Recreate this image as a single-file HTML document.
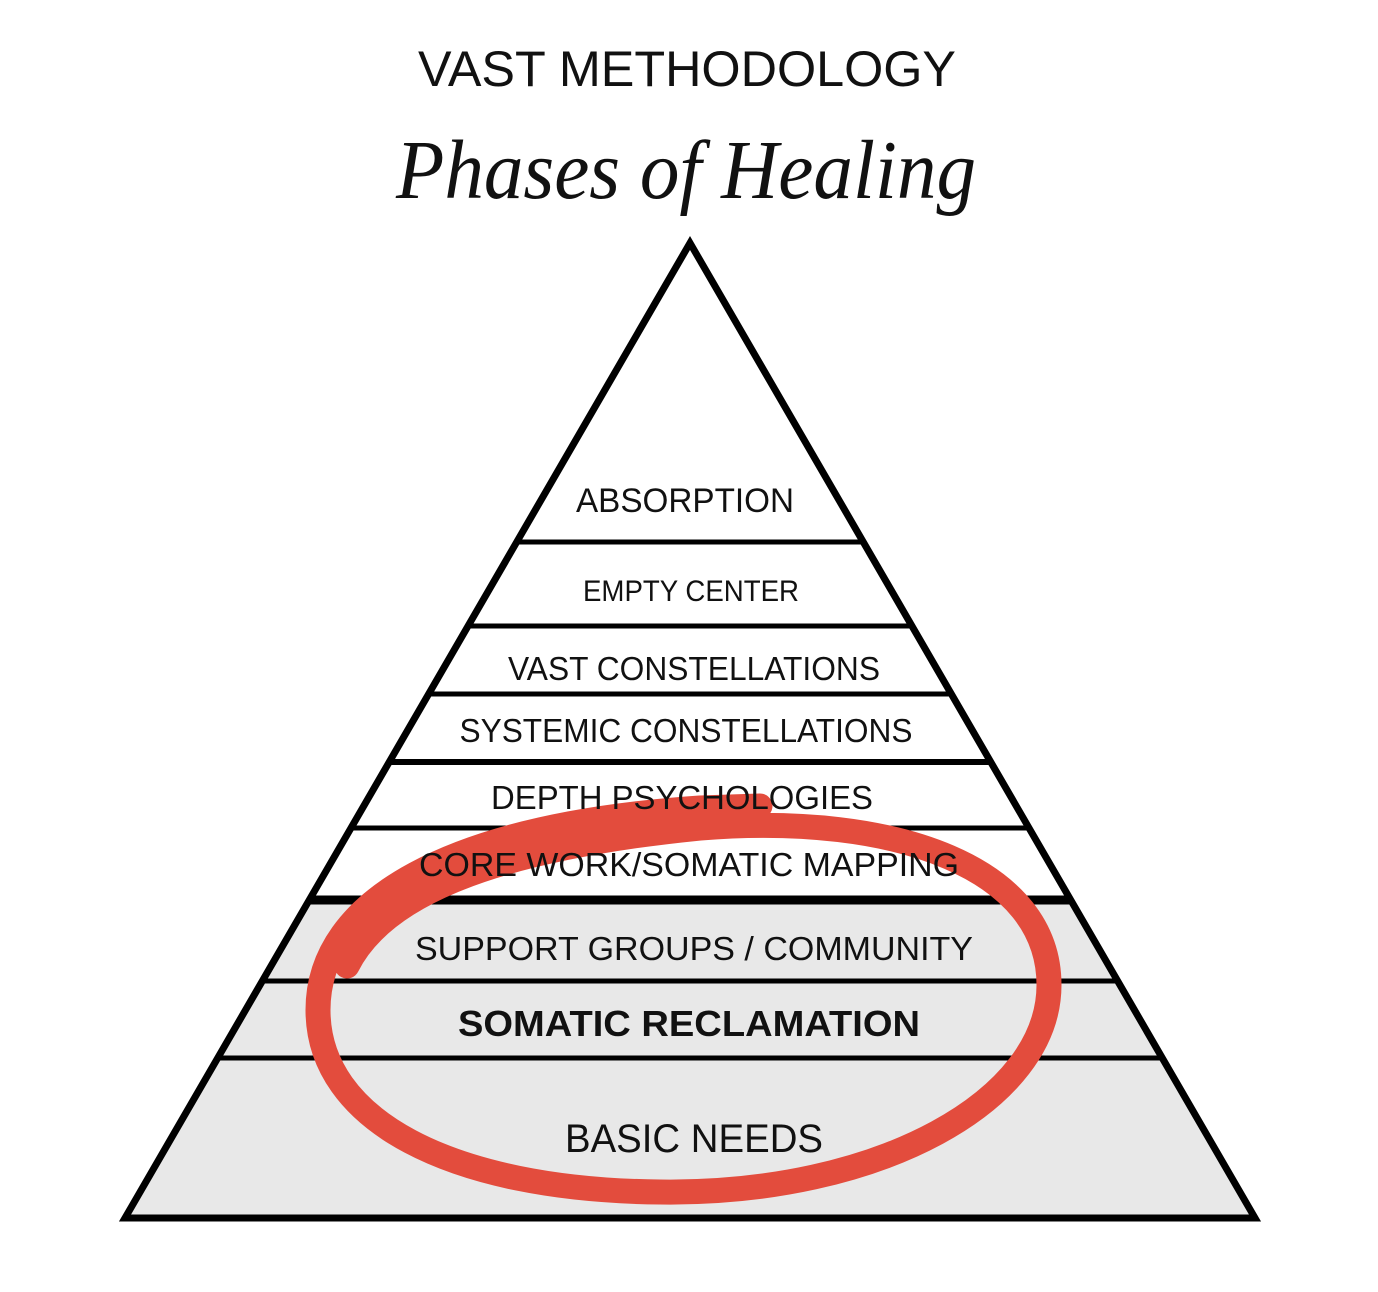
<!DOCTYPE html>
<html><head><style>
html,body{margin:0;padding:0;background:#fff;}
svg{display:block;}
</style></head><body>
<svg width="1378" height="1292" viewBox="0 0 1378 1292" xmlns="http://www.w3.org/2000/svg">
<defs><clipPath id="tri"><polygon points="690,243 125,1218 1255,1218"/></clipPath></defs>
<text x="687" y="86" text-anchor="middle" font-family="Liberation Sans, sans-serif" font-size="50" fill="#111" textLength="538" lengthAdjust="spacingAndGlyphs">VAST METHODOLOGY</text>
<text x="686" y="198" text-anchor="middle" font-family="Liberation Serif, serif" font-style="italic" font-size="84" fill="#111" textLength="580" lengthAdjust="spacingAndGlyphs">Phases of Healing</text>
<g clip-path="url(#tri)">
<rect x="0" y="904" width="1378" height="400" fill="#e8e8e8"/>
<g stroke="#000">
<line x1="0" x2="1378" y1="542" y2="542" stroke-width="5"/>
<line x1="0" x2="1378" y1="626" y2="626" stroke-width="5"/>
<line x1="0" x2="1378" y1="694" y2="694" stroke-width="5"/>
<line x1="0" x2="1378" y1="762" y2="762" stroke-width="6"/>
<line x1="0" x2="1378" y1="828" y2="828" stroke-width="5"/>
<line x1="0" x2="1378" y1="900" y2="900" stroke-width="9"/>
<line x1="0" x2="1378" y1="981" y2="981" stroke-width="5"/>
<line x1="0" x2="1378" y1="1058" y2="1058" stroke-width="5"/>
</g>
</g>
<polygon points="690,243 125,1218 1255,1218" fill="none" stroke="#000" stroke-width="7" stroke-linejoin="miter"/>
<path d="M 347 966 C 380 900, 480 850, 700 828 C 900 812, 1049 870, 1049 985 C 1049 1100, 880 1195, 660 1192 C 450 1190, 318 1120, 318 1010 C 318 900, 450 825, 700 808 L 760 806" fill="none" stroke="#e34c3d" stroke-width="25" stroke-linecap="round" stroke-linejoin="round"/>
<g font-family="Liberation Sans, sans-serif" fill="#111" text-anchor="middle" lengthAdjust="spacingAndGlyphs">
<text x="685" y="512" font-size="34" textLength="218" lengthAdjust="spacingAndGlyphs">ABSORPTION</text>
<text x="691" y="601" font-size="30" textLength="216" lengthAdjust="spacingAndGlyphs">EMPTY CENTER</text>
<text x="694" y="680" font-size="33" textLength="372" lengthAdjust="spacingAndGlyphs">VAST CONSTELLATIONS</text>
<text x="686" y="742" font-size="33" textLength="453" lengthAdjust="spacingAndGlyphs">SYSTEMIC CONSTELLATIONS</text>
<text x="682" y="809" font-size="33" textLength="382" lengthAdjust="spacingAndGlyphs">DEPTH PSYCHOLOGIES</text>
<text x="689" y="876" font-size="33" textLength="540" lengthAdjust="spacingAndGlyphs">CORE WORK/SOMATIC MAPPING</text>
<text x="694" y="960" font-size="33" textLength="558" lengthAdjust="spacingAndGlyphs">SUPPORT GROUPS / COMMUNITY</text>
<text x="689" y="1036" font-size="36" font-weight="bold" textLength="462" lengthAdjust="spacingAndGlyphs">SOMATIC RECLAMATION</text>
<text x="694" y="1152" font-size="40" textLength="258" lengthAdjust="spacingAndGlyphs">BASIC NEEDS</text>
</g>
</svg>
</body></html>
